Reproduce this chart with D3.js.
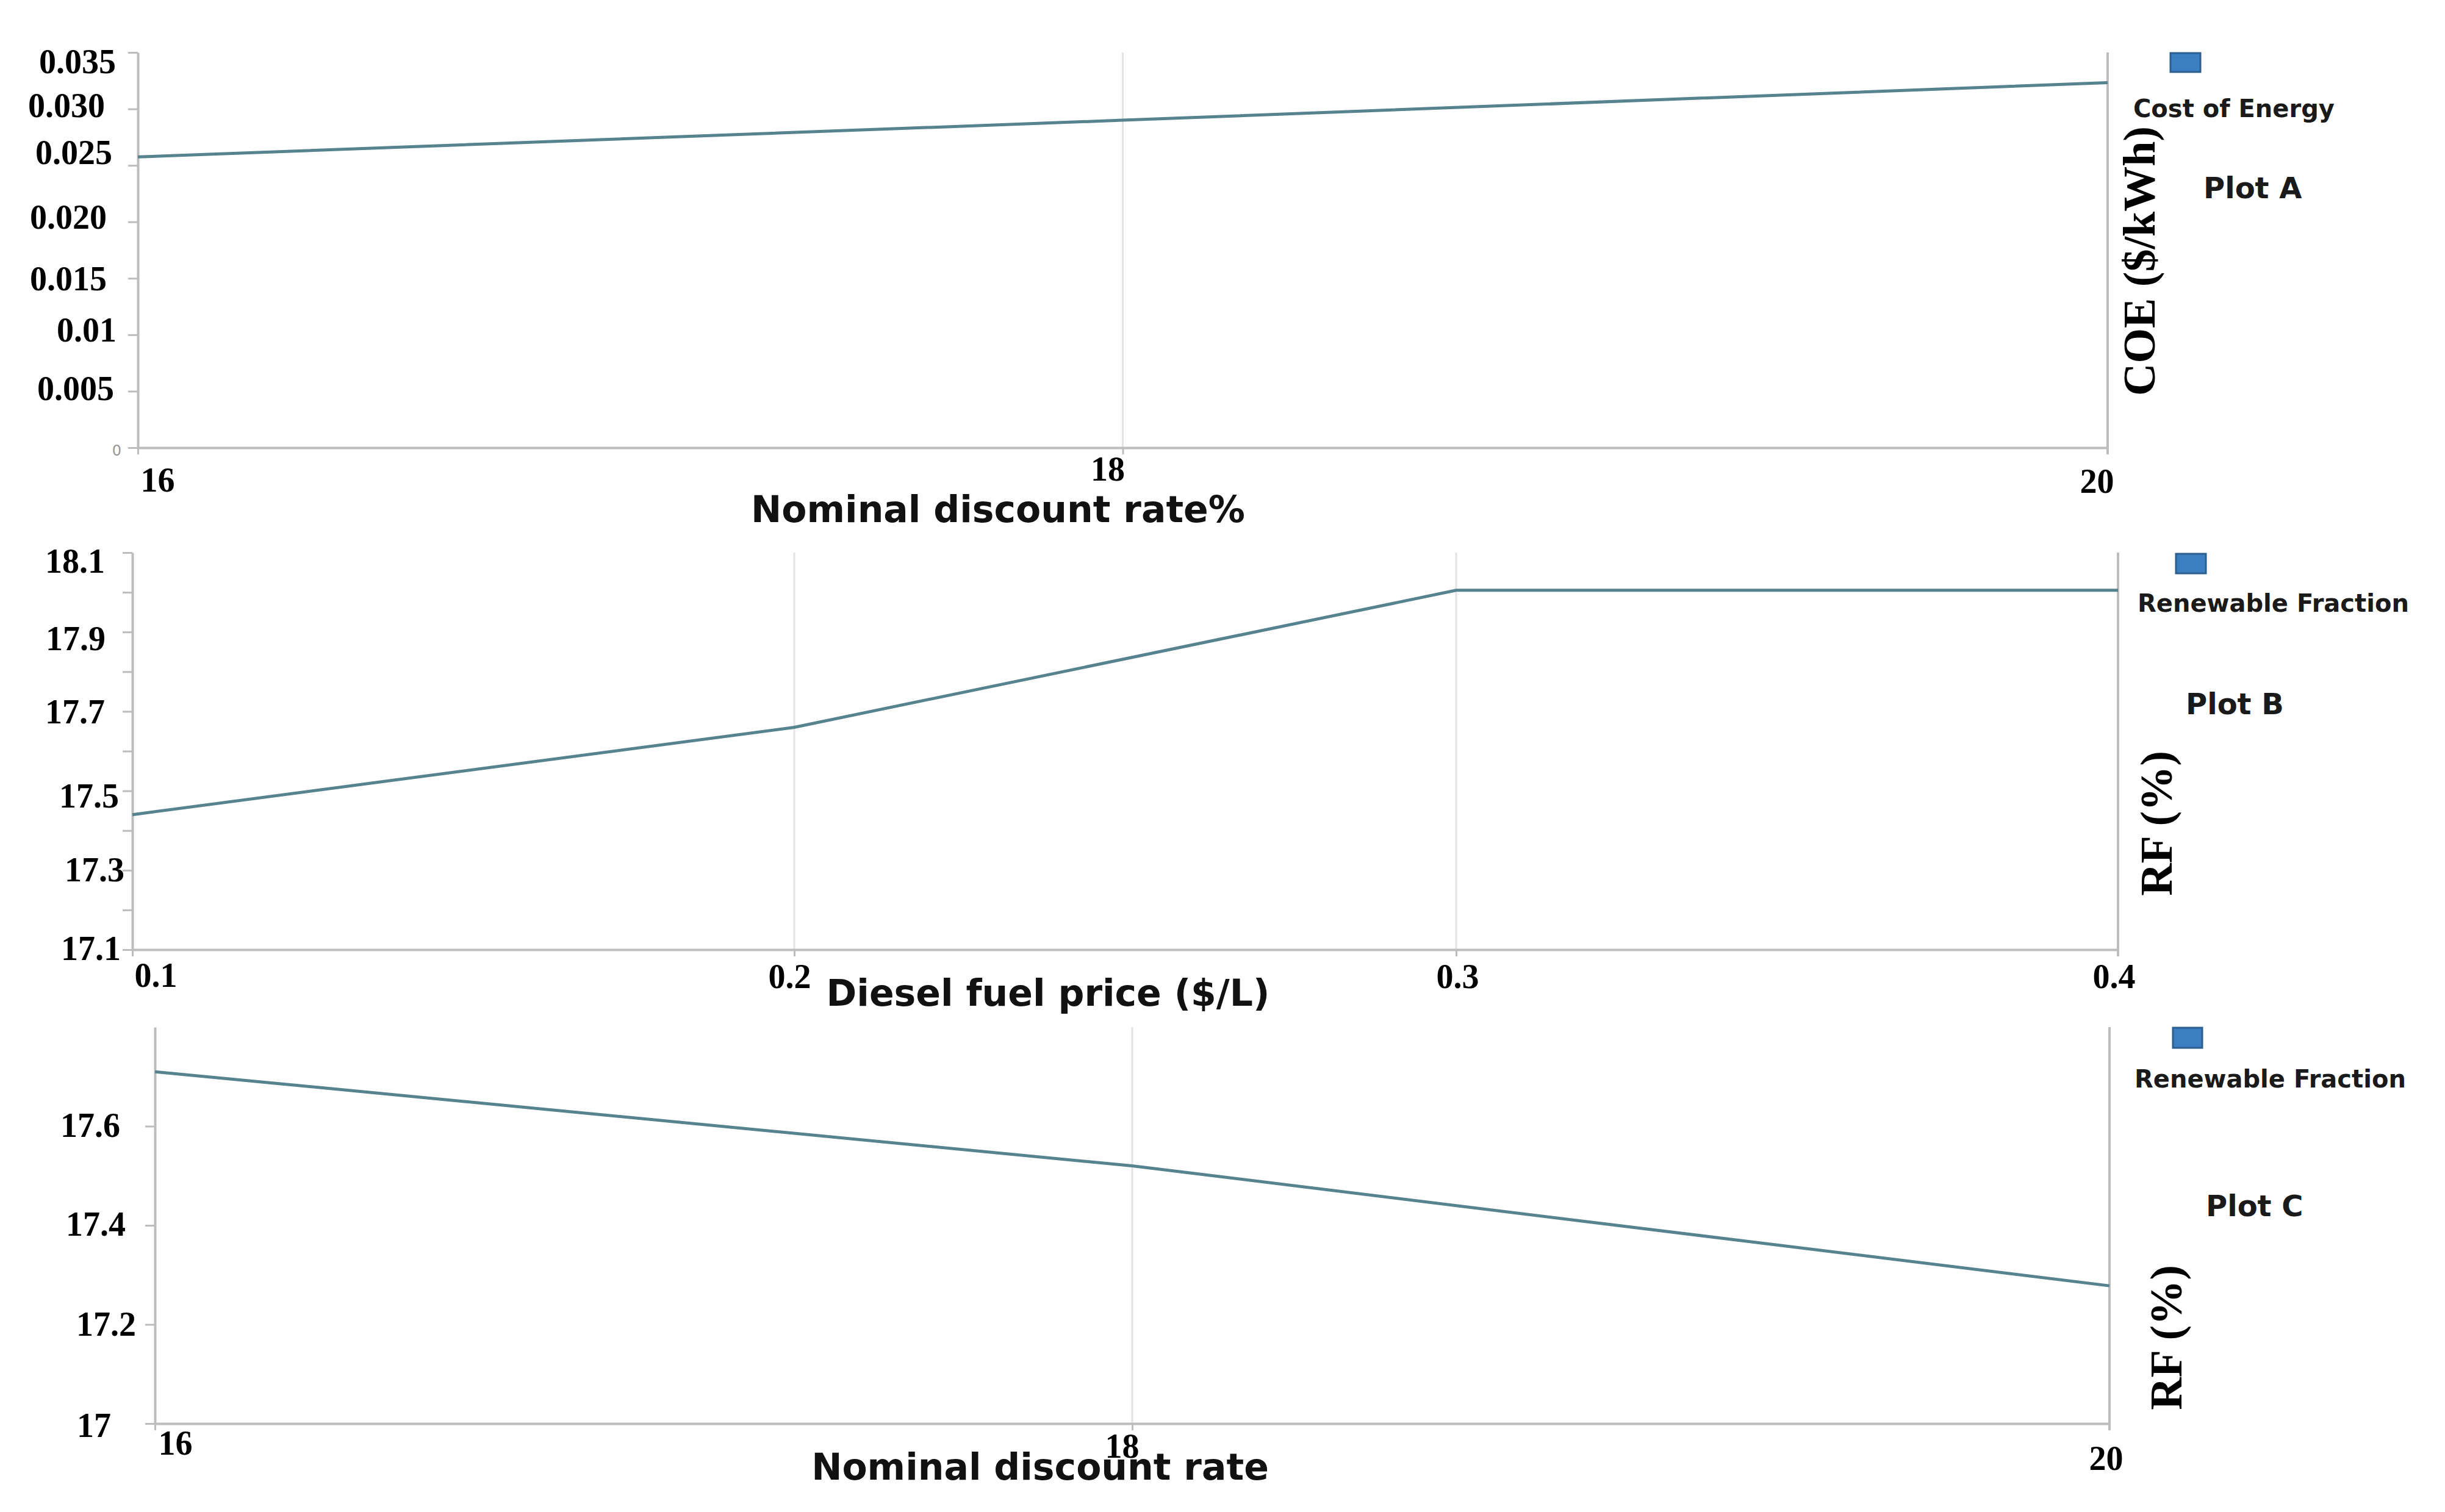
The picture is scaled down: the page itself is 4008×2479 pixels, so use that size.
<!DOCTYPE html>
<html>
<head>
<meta charset="utf-8">
<script src="https://cdn.jsdelivr.net/npm/d3@7"></script>
<style>
  body { margin: 0; background: #fff; }
  .axis path, .axis line { stroke: #bdbdbd; stroke-width: 4; }
  .axis .tick line { stroke-width: 3; }
  .tick-label { font-family: "Liberation Serif", "Times New Roman", serif; font-weight: bold; font-size: 56px; fill: #000; }
  .tick-faint { font-family: "DejaVu Sans", sans-serif; font-weight: normal; font-size: 24px; fill: #999; }
  .x-title { font-family: "DejaVu Sans", Verdana, sans-serif; font-weight: bold; font-size: 60px; fill: #111; }
  .y-title { font-family: "Liberation Serif", "Times New Roman", serif; font-weight: bold; font-size: 74px; fill: #000; }
  .legend-text { font-family: "DejaVu Sans", Verdana, sans-serif; font-weight: bold; font-size: 40px; fill: #1a1a1a; }
  .plot-name { font-family: "DejaVu Sans", Verdana, sans-serif; font-weight: bold; font-size: 48px; fill: #1a1a1a; }
</style>
</head>
<body>
<div id="chart"></div>
<script>
// Plot A: cost of energy vs nominal discount rate
const discountRates = [16, 18, 20];
const discountLabels = ["16", "18", "20"];
const coeValues = [0.02575, 0.0290, 0.03233];
const coeTicks = [0, 0.005, 0.01, 0.015, 0.02, 0.025, 0.03, 0.035];
const coeTickLabels = ["0", "0.005", "0.01", "0.015", "0.020", "0.025", "0.030", "0.035"];

// Plot B: renewable fraction vs diesel fuel price
const dieselPrices = [0.1, 0.2, 0.3, 0.4];
const dieselLabels = ["0.1", "0.2", "0.3", "0.4"];
const rfByDiesel = [17.44, 17.66, 18.005, 18.005];
const rfBTicks = [17.1, 17.2, 17.3, 17.4, 17.5, 17.6, 17.7, 17.8, 17.9, 18.0, 18.1];
const rfBTickLabels = ["17.1", "", "17.3", "", "17.5", "", "17.7", "", "17.9", "", "18.1"];

// Plot C: renewable fraction vs nominal discount rate
const rfByDiscount = [17.71, 17.52, 17.278];
const rfCTicks = [17, 17.2, 17.4, 17.6];
const rfCTickLabels = ["17", "17.2", "17.4", "17.6"];

const W = 4008, H = 2479;

const svg = d3.select("#chart")
    .append("svg")
    .attr("width", W)
    .attr("height", H)
    .style("background", "#fff");

// layout of each panel (pixel boxes, label nudges, legend spots)
const panels = [
    {
        box: {left: 226, right: 3455, top: 86, bottom: 734},
        xs: discountRates, xLabels: discountLabels, xDomain: [16, 20],
        ys: coeValues, yDomain: [0, 0.035], yTicks: coeTicks, yLabels: coeTickLabels,
        xNudge: [["start", 4, 72], ["middle", -25, 54], ["middle", -18, 74]],
        yNudge: [[-27, 4], [-39, -6], [-35, -9], [-51, 0], [-51, -9], [-42, -22], [-54, -7], [-36, 14]],
        faintZero: true,
        xTitle: "Nominal discount rate%", xTitlePos: [1636, 856],
        legendRect: [3558, 87, 49, 31], legendText: "Cost of Energy", legendPos: [3497, 192],
        name: "Plot A", namePos: [3612, 325],
        yTitle: "COE ($/kWh)", yTitlePos: [3532, 428]
    },
    {
        box: {left: 217, right: 3472, top: 906, bottom: 1557},
        xs: dieselPrices, xLabels: dieselLabels, xDomain: [0.1, 0.4],
        ys: rfByDiesel, yDomain: [17.1, 18.1], yTicks: rfBTicks, yLabels: rfBTickLabels,
        xNudge: [["start", 3, 61], ["middle", -8, 63], ["middle", 2, 63], ["middle", -7, 63]],
        yNudge: [[-19, -3], [0, 0], [-13, -2], [0, 0], [-22, 7], [0, 0], [-45, -1], [0, 0], [-44, 10], [0, 0], [-45, 13]],
        xTitle: "Diesel fuel price ($/L)", xTitlePos: [1718, 1649],
        legendRect: [3567, 908, 49, 32], legendText: "Renewable Fraction", legendPos: [3504, 1003],
        name: "Plot B", namePos: [3583, 1171],
        yTitle: "RF (%)", yTitlePos: [3560, 1350]
    },
    {
        box: {left: 254, right: 3458, top: 1684, bottom: 2334},
        xs: discountRates, xLabels: discountLabels, xDomain: [16, 20],
        ys: rfByDiscount, yDomain: [17, 17.8], yTicks: rfCTicks, yLabels: rfCTickLabels,
        xNudge: [["start", 5, 51], ["middle", -17, 56], ["middle", -6, 76]],
        yNudge: [[-72, 2], [-31, -2], [-48, -3], [-57, -3]],
        xTitle: "Nominal discount rate", xTitlePos: [1705, 2426],
        legendRect: [3562, 1685, 48, 33], legendText: "Renewable Fraction", legendPos: [3499, 1783],
        name: "Plot C", namePos: [3616, 1994],
        yTitle: "RF (%)", yTitlePos: [3576, 2193]
    }
];

function drawPanel(p) {
    const b = p.box;
    const x = d3.scaleLinear().domain(p.xDomain).range([b.left, b.right]);
    const y = d3.scaleLinear().domain(p.yDomain).range([b.bottom, b.top]);
    const g = svg.append("g");

    // vertical grid lines at inner x ticks, darker frame line at the last one
    const last = p.xs[p.xs.length - 1];
    g.selectAll(".grid")
        .data(p.xs.filter((d, i) => i > 0))
        .enter().append("line")
        .attr("x1", d => x(d)).attr("x2", d => x(d))
        .attr("y1", b.top)
        .attr("y2", d => d === last ? b.bottom + 11 : b.bottom)
        .attr("stroke", d => d === last ? "#bdbdbd" : "#e4e4e4")
        .attr("stroke-width", d => d === last ? 4 : 3);

    // x axis
    const xAxis = g.append("g")
        .attr("class", "axis")
        .attr("transform", `translate(0,${b.bottom})`)
        .call(d3.axisBottom(x).tickValues(p.xs).tickSize(11).tickSizeOuter(0)
            .tickFormat((d, i) => p.xLabels[i]));
    xAxis.selectAll("text")
        .attr("class", "tick-label")
        .attr("text-anchor", (d, i) => p.xNudge[i][0])
        .attr("x", (d, i) => p.xNudge[i][1])
        .attr("y", (d, i) => p.xNudge[i][2])
        .attr("dy", null);

    // y axis
    const yAxis = g.append("g")
        .attr("class", "axis")
        .attr("transform", `translate(${b.left},0)`)
        .call(d3.axisLeft(y).tickValues(p.yTicks).tickSize(16).tickSizeOuter(0)
            .tickFormat((d, i) => p.yLabels[i]));
    yAxis.selectAll("text")
        .attr("class", d => (p.faintZero && d === 0) ? "tick-faint" : "tick-label")
        .attr("text-anchor", "end")
        .attr("x", (d, i) => p.yNudge[i][0])
        .attr("y", (d, i) => p.yNudge[i][1])
        .attr("dy", "0.35em");

    // data line
    const line = d3.line()
        .x((d, i) => x(p.xs[i]))
        .y(d => y(d));
    g.append("path")
        .datum(p.ys)
        .attr("d", line)
        .attr("fill", "none")
        .attr("stroke", "#56838f")
        .attr("stroke-width", 5);

    // x axis title
    g.append("text")
        .attr("class", "x-title")
        .attr("x", p.xTitlePos[0])
        .attr("y", p.xTitlePos[1])
        .attr("text-anchor", "middle")
        .text(p.xTitle);

    // legend swatch and label
    g.append("rect")
        .attr("x", p.legendRect[0]).attr("y", p.legendRect[1])
        .attr("width", p.legendRect[2]).attr("height", p.legendRect[3])
        .attr("fill", "#3b7fc0")
        .attr("stroke", "#2b5f8e")
        .attr("stroke-width", 3);
    g.append("text")
        .attr("class", "legend-text")
        .attr("x", p.legendPos[0]).attr("y", p.legendPos[1])
        .text(p.legendText);
    g.append("text")
        .attr("class", "plot-name")
        .attr("x", p.namePos[0]).attr("y", p.namePos[1])
        .text(p.name);

    // rotated y title on the right
    g.append("text")
        .attr("class", "y-title")
        .attr("transform", `translate(${p.yTitlePos[0]},${p.yTitlePos[1]}) rotate(-90)`)
        .attr("text-anchor", "middle")
        .text(p.yTitle);
}

panels.forEach(drawPanel);
</script>
</body>
</html>
